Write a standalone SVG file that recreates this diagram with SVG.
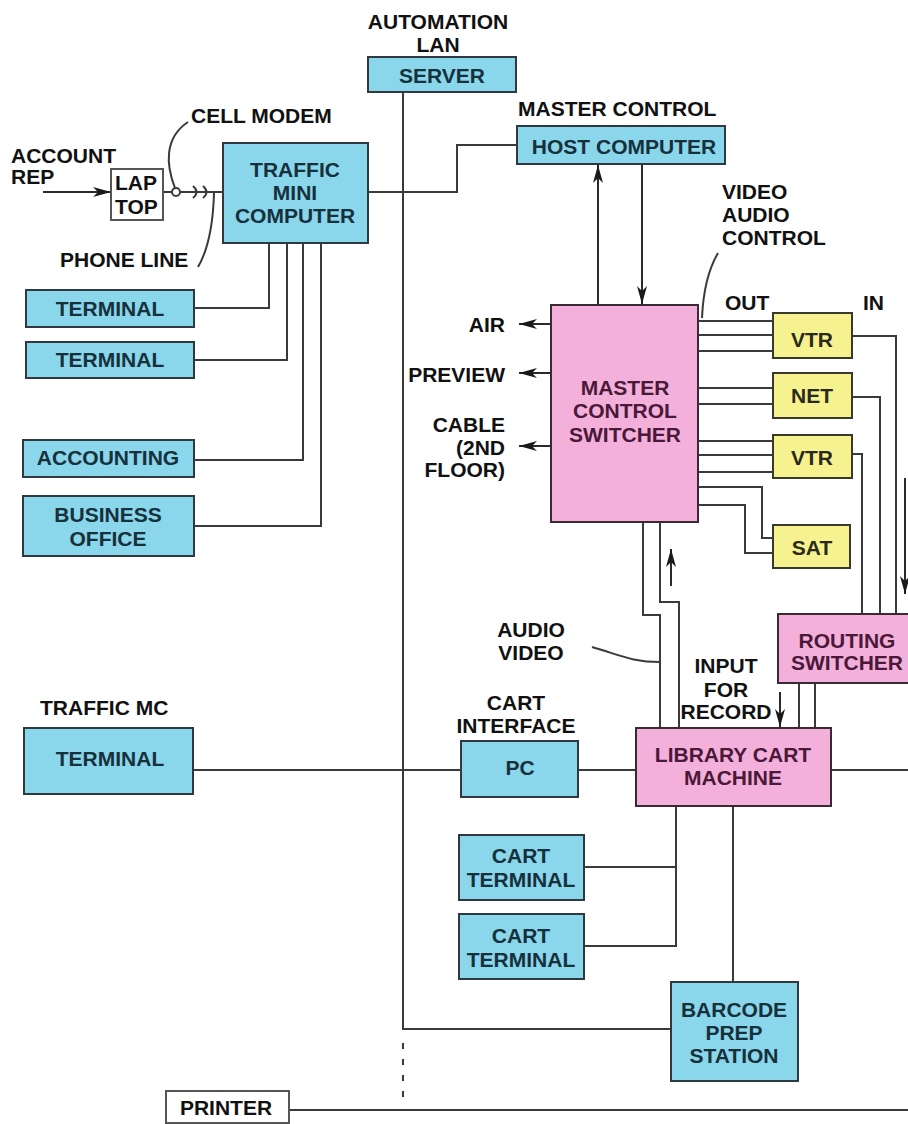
<svg xmlns="http://www.w3.org/2000/svg" width="908" height="1124" viewBox="0 0 908 1124">
<defs>
<style>
text{font-family:"Liberation Sans",Arial,Helvetica,sans-serif;font-weight:bold;font-size:21px;fill:#111}
.m{text-anchor:middle}
.e{text-anchor:end}
.cy{fill:#8ad6ea;stroke:#2e3a40;stroke-width:2}
.pk{fill:#f3b0da;stroke:#3a2a34;stroke-width:2}
.ye{fill:#f7f290;stroke:#3a3a2a;stroke-width:2}
.wh{fill:#ffffff;stroke:#555;stroke-width:2}
.tc{fill:#16303c}
.tp{fill:#4a1838}
.ty{fill:#2a2a1a}
.ln{fill:none;stroke:#3a3a3a;stroke-width:2}
.arrow{fill:none;stroke:#2a2a2a;stroke-width:2;marker-end:url(#ah)}
</style>
<marker id="ah" viewBox="0 0 18 10" refX="18" refY="5" markerWidth="18" markerHeight="10" markerUnits="userSpaceOnUse" orient="auto">
<path d="M0,0 L18,5 L0,10 L5,5 Z" fill="#1a1a1a"/>
</marker>
</defs>
<rect width="908" height="1124" fill="#ffffff"/>

<g id="connectors">
<path class="ln" d="M403,92 V1029 H671"/>
<path class="ln" d="M403,1043 V1100" stroke-dasharray="6 10"/>
<path class="ln" d="M368,192 H457 V145 H517"/>
<path class="ln" d="M194,308 H269 V243"/>
<path class="ln" d="M194,360 H287 V243"/>
<path class="ln" d="M194,460 H303 V243"/>
<path class="ln" d="M194,526 H321 V243"/>
<line class="arrow" x1="43" y1="192" x2="111" y2="192"/>
<line class="ln" x1="163" y1="192" x2="172" y2="192"/>
<circle cx="176" cy="192" r="4" fill="#fff" stroke="#3a3a3a" stroke-width="2"/>
<line class="ln" x1="180" y1="192" x2="223" y2="192"/>
<path class="ln" d="M193,186 Q200,192 193,198 M203,186 Q210,192 203,198"/>
<path class="ln" d="M175,188 C166,165 164,138 188,122" stroke-width="1.8"/>
<path class="ln" d="M214,193 C213,228 208,250 198,267" stroke-width="1.8"/>
<path class="ln" d="M718,253 C708,270 703,295 702,318" stroke-width="1.8"/>
<path class="ln" d="M592,647 C620,655 632,662 660,662" stroke-width="1.8"/>
<line class="arrow" x1="598" y1="305" x2="598" y2="165"/>
<line class="arrow" x1="642" y1="164" x2="642" y2="304"/>
<line class="arrow" x1="551" y1="324" x2="519" y2="324"/>
<line class="arrow" x1="551" y1="373" x2="519" y2="373"/>
<line class="arrow" x1="551" y1="446" x2="519" y2="446"/>
<path class="ln" d="M698,321 H773 M698,335 H773 M698,351 H773 M698,388 H773 M698,404 H773 M698,441 H773 M698,455 H773 M698,472 H773"/>
<path class="ln" d="M698,487 H762 V538 H773"/>
<path class="ln" d="M698,505 H745 V553 H773"/>
<path class="ln" d="M852,336 H896 V614"/>
<path class="ln" d="M852,397 H880 V614"/>
<path class="ln" d="M852,454 H862 V614"/>
<line class="arrow" x1="905" y1="478" x2="905" y2="594"/>
<path class="ln" d="M643,522 V615 H660 V728"/>
<path class="ln" d="M660,522 V602 H679 V728"/>
<line class="arrow" x1="671" y1="586" x2="671" y2="549"/>
<path class="ln" d="M799,683 V728 M815,683 V728"/>
<line class="arrow" x1="780" y1="692" x2="780" y2="727"/>
<path class="ln" d="M193,770 H461 M578,770 H636 M831,770 H908"/>
<path class="ln" d="M676,806 V946 H584 M676,867 H584"/>
<path class="ln" d="M733,806 V982"/>
<path class="ln" d="M289,1110 H908"/>
</g>

<text x="438" y="29" class="m">AUTOMATION</text>
<text x="438" y="52" class="m">LAN</text>
<g id="server"><rect class="cy" x="368" y="57" width="148" height="35"/><text class="m tc" x="442" y="83">SERVER</text></g>

<text x="191" y="123">CELL MODEM</text>
<text x="11" y="163">ACCOUNT</text>
<text x="11" y="184">REP</text>
<text x="60" y="267">PHONE LINE</text>
<g id="laptop"><rect class="wh" x="111" y="169" width="52" height="51" stroke-width="1.5"/><text x="115" y="190">LAP</text><text x="115" y="214">TOP</text></g>

<g id="traffic"><rect class="cy" x="223" y="143" width="145" height="100"/>
<text class="m tc" x="295" y="177">TRAFFIC</text><text class="m tc" x="295" y="200">MINI</text><text class="m tc" x="295" y="223">COMPUTER</text></g>

<g id="terminal1"><rect class="cy" x="26" y="290" width="168" height="37"/><text class="m tc" x="110" y="316">TERMINAL</text></g>
<g id="terminal2"><rect class="cy" x="26" y="342" width="168" height="36"/><text class="m tc" x="110" y="367">TERMINAL</text></g>
<g id="accounting"><rect class="cy" x="23" y="440" width="171" height="37"/><text class="m tc" x="108" y="465">ACCOUNTING</text></g>
<g id="business"><rect class="cy" x="23" y="496" width="171" height="60"/><text class="m tc" x="108" y="522">BUSINESS</text><text class="m tc" x="108" y="546">OFFICE</text></g>

<text x="518" y="116">MASTER CONTROL</text>
<g id="host"><rect class="cy" x="517" y="126" width="208" height="38"/><text class="m tc" x="624" y="154">HOST COMPUTER</text></g>

<text x="722" y="199">VIDEO</text>
<text x="722" y="222">AUDIO</text>
<text x="722" y="245">CONTROL</text>
<text x="725" y="310">OUT</text>
<text x="863" y="310">IN</text>

<text class="e" x="505" y="332">AIR</text>
<text class="e" x="505" y="382">PREVIEW</text>
<text class="e" x="505" y="432">CABLE</text>
<text class="e" x="505" y="455">(2ND</text>
<text class="e" x="505" y="477">FLOOR)</text>

<g id="switcher"><rect class="pk" x="551" y="305" width="147" height="217"/>
<text class="m tp" x="625" y="395">MASTER</text><text class="m tp" x="625" y="418">CONTROL</text><text class="m tp" x="625" y="442">SWITCHER</text></g>

<g id="vtr1"><rect class="ye" x="773" y="313" width="79" height="45"/><text class="m ty" x="812" y="347">VTR</text></g>
<g id="net"><rect class="ye" x="773" y="373" width="79" height="45"/><text class="m ty" x="812" y="403">NET</text></g>
<g id="vtr2"><rect class="ye" x="773" y="435" width="79" height="43"/><text class="m ty" x="812" y="465">VTR</text></g>
<g id="sat"><rect class="ye" x="773" y="525" width="77" height="43"/><text class="m ty" x="812" y="555">SAT</text></g>

<g id="routing"><rect class="pk" x="778" y="614" width="134" height="69"/><text class="m tp" x="847" y="648">ROUTING</text><text class="m tp" x="847" y="670">SWITCHER</text></g>

<text class="m" x="531" y="637">AUDIO</text>
<text class="m" x="531" y="660">VIDEO</text>
<text class="m" x="726" y="673">INPUT</text>
<text class="m" x="726" y="697">FOR</text>
<text class="m" x="726" y="719">RECORD</text>
<text class="m" x="516" y="710">CART</text>
<text class="m" x="516" y="733">INTERFACE</text>
<text x="40" y="715">TRAFFIC MC</text>

<g id="mcterminal"><rect class="cy" x="24" y="728" width="169" height="66"/><text class="m tc" x="110" y="766">TERMINAL</text></g>
<g id="pc"><rect class="cy" x="461" y="741" width="117" height="56"/><text class="m tc" x="520" y="775">PC</text></g>
<g id="library"><rect class="pk" x="636" y="728" width="195" height="78"/><text class="m tp" x="733" y="762">LIBRARY CART</text><text class="m tp" x="733" y="785">MACHINE</text></g>

<g id="cartterm1"><rect class="cy" x="459" y="835" width="125" height="65"/><text class="m tc" x="521" y="863">CART</text><text class="m tc" x="521" y="887">TERMINAL</text></g>
<g id="cartterm2"><rect class="cy" x="459" y="914" width="125" height="65"/><text class="m tc" x="521" y="943">CART</text><text class="m tc" x="521" y="967">TERMINAL</text></g>

<g id="barcode"><rect class="cy" x="671" y="982" width="127" height="99"/><text class="m tc" x="734" y="1017">BARCODE</text><text class="m tc" x="734" y="1040">PREP</text><text class="m tc" x="734" y="1063">STATION</text></g>

<g id="printer"><rect class="wh" x="166" y="1091" width="123" height="32"/><text class="m" x="226" y="1115">PRINTER</text></g>
</svg>
